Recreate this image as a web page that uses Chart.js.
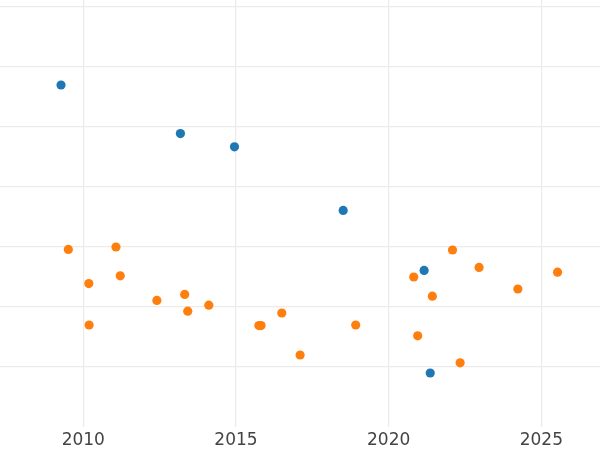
<!DOCTYPE html>
<html>
<head>
<meta charset="utf-8">
<script src="https://cdn.jsdelivr.net/npm/chart.js@4/dist/chart.umd.min.js"></script>
<style>
  html, body { margin: 0; padding: 0; background: #fff; }
  #wrap { width: 600px; height: 450px; }
</style>
</head>
<body>
<div id="wrap"><canvas id="chart"></canvas></div>
<script>
// blue series
const blueYears = [2009.27, 2013.18, 2014.95, 2018.51, 2021.16, 2021.36];
const blueValues = [5.70, 4.89, 4.67, 3.61, 2.61, 0.90];

// orange series
const orangeYears = [2009.51, 2011.07, 2010.18, 2011.21, 2010.19, 2012.41, 2013.32, 2013.42,
  2014.11, 2015.75, 2015.82, 2016.50, 2017.10, 2018.92, 2020.82, 2021.43, 2020.95,
  2022.09, 2022.96, 2022.34, 2024.23, 2025.53];
const orangeValues = [2.96, 3.00, 2.39, 2.52, 1.70, 2.11, 2.21, 1.93,
  2.03, 1.69, 1.69, 1.90, 1.20, 1.70, 2.50, 2.18, 1.52,
  2.95, 2.66, 1.07, 2.30, 2.58];

const xTicks = [2010, 2015, 2020, 2025];
const yTicks = [1, 2, 3, 4, 5, 6, 7];

const toPoints = (xs, ys) => xs.map((x, i) => ({ x: x, y: ys[i] }));
const gridColor = "#ebebeb";

new Chart(document.getElementById("chart"), {
  type: "scatter",
  data: {
    datasets: [
      {
        label: "blue",
        data: toPoints(blueYears, blueValues),
        backgroundColor: "#1f77b4",
        borderWidth: 0,
        pointRadius: 4.6,
      },
      {
        label: "orange",
        data: toPoints(orangeYears, orangeValues),
        backgroundColor: "#ff7f0e",
        borderWidth: 0,
        pointRadius: 4.6,
      },
    ],
  },
  options: {
    responsive: true,
    maintainAspectRatio: false,
    animation: false,
    layout: { padding: 0, autoPadding: false },
    plugins: {
      legend: { display: false },
      tooltip: { enabled: false },
    },
    scales: {
      x: {
        type: "linear",
        min: 2007.272,
        max: 2026.92,
        afterBuildTicks: (scale) => { scale.ticks = xTicks.map(v => ({ value: v })); },
        afterFit: (scale) => { scale.height = 23; },
        grid: { color: gridColor, lineWidth: 1.2, drawTicks: false },
        border: { display: false },
        ticks: {
          color: "#444",
          padding: 3,
          maxRotation: 0,
          font: { family: "DejaVu Sans", size: 17 },
          callback: (v) => String(v),
        },
      },
      y: {
        type: "linear",
        min: 0,
        max: 7.117,
        afterBuildTicks: (scale) => { scale.ticks = yTicks.map(v => ({ value: v })); },
        grid: { color: gridColor, lineWidth: 1.2, drawTicks: false },
        border: { display: false },
        ticks: { display: false },
      },
    },
  },
});
</script>
</body>
</html>
